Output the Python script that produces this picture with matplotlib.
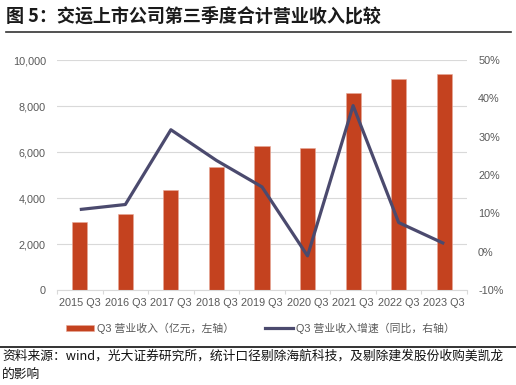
import matplotlib.pyplot as plt
import numpy as np
from matplotlib.lines import Line2D
from matplotlib.patches import Patch
from matplotlib.ticker import FuncFormatter

plt.rcParams['font.family'] = ['Liberation Sans', 'Noto Sans CJK SC', 'DejaVu Sans']

# data
quarters = ['2015 Q3', '2016 Q3', '2017 Q3', '2018 Q3', '2019 Q3',
            '2020 Q3', '2021 Q3', '2022 Q3', '2023 Q3']
revenue = [2950, 3290, 4350, 5360, 6260, 6190, 8550, 9190, 9390]   # 亿元
growth = [11.0, 12.3, 31.8, 23.8, 16.9, -1.1, 38.1, 7.6, 2.1]      # %

W, H = 516, 385
fig = plt.figure(figsize=(W / 100, H / 100), dpi=100)

bar_c = '#C4421F'
line_c = '#4B4A6E'
grey = '#595959'

ax = fig.add_axes([57 / W, (H - 290) / H, 410 / W, 230 / H])
x = np.arange(len(quarters))
ax.bar(x, revenue, width=0.33, color=bar_c, edgecolor='#E8A898', linewidth=0.4, zorder=2)
ax.set_xlim(-0.5, len(quarters) - 0.5)
ax.set_ylim(0, 10000)
ax.set_yticks(np.arange(0, 10001, 2000))
ax.yaxis.set_major_formatter(FuncFormatter(lambda v, p: f'{int(v):,}'))
ax.grid(axis='y', color='#D9D9D9', linewidth=0.8, zorder=0)
ax.set_xticks(x)
ax.set_xticklabels(quarters)
ax.set_xticks(np.arange(-0.5, len(quarters), 1.0), minor=True)
ax.tick_params(axis='x', which='major', length=0, pad=6, labelsize=7.8, colors=grey)
ax.tick_params(axis='x', which='minor', length=3, color='#D9D9D9', width=0.8)
ax.tick_params(axis='y', length=0, pad=8, labelsize=7.8, colors=grey)
for s in ['top', 'right', 'left']:
    ax.spines[s].set_visible(False)
ax.spines['bottom'].set_color('#D9D9D9')
ax.spines['bottom'].set_linewidth(0.8)

ax2 = ax.twinx()
ax2.plot(x, growth, color=line_c, linewidth=2.3, zorder=3, solid_capstyle='butt')
ax2.set_ylim(-10, 50)
ax2.set_yticks(np.arange(-10, 51, 10))
ax2.yaxis.set_major_formatter(FuncFormatter(lambda v, p: f'{int(v)}%'))
ax2.tick_params(axis='y', length=0, pad=8, labelsize=7.8, colors=grey)
for s in ax2.spines.values():
    s.set_visible(False)

# title and separator lines
fig.text(6 / W, 1 - 16 / H, '图 5：交运上市公司第三季度合计营业收入比较', fontsize=13,
         fontweight='bold', va='center', ha='left', color='#1a1a1a',
         family=['Noto Sans CJK SC', 'DejaVu Sans'])
fig.add_artist(Line2D([6 / W, 511 / W], [1 - 32 / H, 1 - 32 / H], color='#333333', linewidth=1.2))
fig.add_artist(Line2D([0, 1], [1 - 347 / H, 1 - 347 / H], color='#111111', linewidth=1.2))

handles = [Patch(facecolor=bar_c, edgecolor='#E8A898', linewidth=0.4),
           Line2D([0], [0], color=line_c, linewidth=2.3)]
labels = ['Q3 营业收入（亿元，左轴）', 'Q3 营业收入增速（同比，右轴）']
fig.legend(handles, labels, loc='center', bbox_to_anchor=(0.505, 1 - 328 / H), ncol=2,
           frameon=False, fontsize=7.8, labelcolor=grey, handlelength=2.6,
           handleheight=0.5, handletextpad=0.3, columnspacing=2.8)

fig.text(2 / W, 1 - 356 / H, '资料来源：wind，光大证券研究所，统计口径剔除海航科技，及剔除建发股份收购美凯龙',
         fontsize=9.2, va='center', ha='left', color='#111111',
         family=['Noto Sans CJK SC', 'DejaVu Sans'])
fig.text(2 / W, 1 - 374 / H, '的影响', fontsize=9.2, va='center', ha='left', color='#111111',
         family=['Noto Sans CJK SC', 'DejaVu Sans'])

fig.savefig('out.png', dpi=100)
